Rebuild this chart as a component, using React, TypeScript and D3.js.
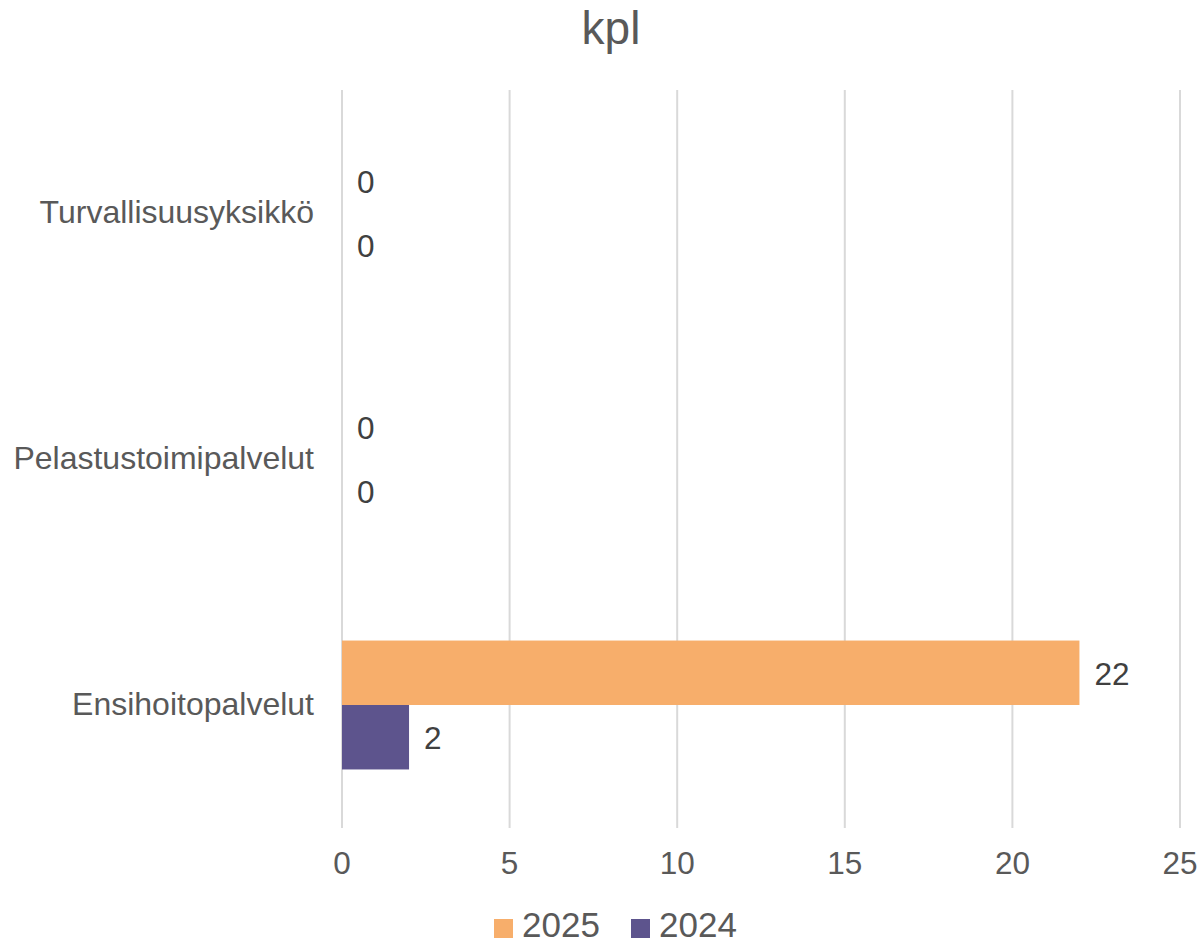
import React from "react";
import * as d3 from "d3";

const categories = ["Turvallisuusyksikkö", "Pelastustoimipalvelut", "Ensihoitopalvelut"];
const seriesNames = ["2025", "2024"];
const values2025 = [0, 0, 22];
const values2024 = [0, 0, 2];
const xTicks = [0, 5, 10, 15, 20, 25];
const colors = ["#F7AE6B", "#5D548D"];

export default function App() {
  const W = 1200, H = 944;
  const left = 342, right = 1180, top = 90, bottom = 828;
  const x = d3.scaleLinear().domain([0, 25]).range([left, right]);
  const y = d3.scaleBand<string>().domain(categories).range([top, bottom]).paddingInner(0.476).paddingOuter(0.238);
  const inner = d3.scaleBand<string>().domain(seriesNames).range([0, y.bandwidth()]);
  const series = [values2025, values2024];
  const font = "'Liberation Sans', Arial, sans-serif";
  return (
    <svg width={W} height={H} style={{ position: "absolute", left: 0, top: 0 }} fontFamily={font}>
      <rect width={W} height={H} fill="#fff" />
      <text x={611} y={44} textAnchor="middle" fontSize={46} fill="#595959">kpl</text>
      {xTicks.map((t) => (
        <g key={t}>
          <line x1={x(t)} x2={x(t)} y1={top} y2={bottom} stroke="#D9D9D9" strokeWidth={2} />
          <text x={x(t)} y={874} textAnchor="middle" fontSize={31.5} fill="#595959">{t}</text>
        </g>
      ))}
      {categories.map((c, i) => (
        <g key={c}>
          <text x={314} y={(y(c) as number) + y.bandwidth() / 2 + 10} textAnchor="end" fontSize={32} fill="#595959">{c}</text>
          {series.map((vals, s) => {
            const by = (y(c) as number) + (inner(seriesNames[s]) as number);
            const bh = inner.bandwidth();
            return (
              <g key={s}>
                <rect x={x(0)} y={by} width={x(vals[i]) - x(0)} height={bh} fill={colors[s]} />
                <text x={x(vals[i]) + 15} y={by + bh / 2 + 12} fontSize={31.5} fill="#404040">{vals[i]}</text>
              </g>
            );
          })}
        </g>
      ))}
      {seriesNames.map((n, s) => (
        <g key={n}>
          <rect x={494 + s * 137} y={919} width={19} height={19} fill={colors[s]} />
          <text x={522 + s * 137} y={936.5} fontSize={35} fill="#595959">{n}</text>
        </g>
      ))}
    </svg>
  );
}
